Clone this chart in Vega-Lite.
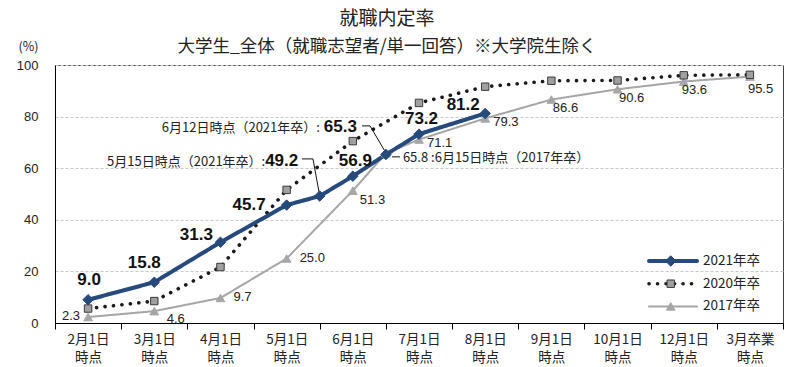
{
  "$schema": "https://vega.github.io/schema/vega-lite/v6.json",
  "width": 728,
  "height": 258,
  "autosize": {"type": "none"},
  "padding": {"left": 55, "top": 65, "right": 17, "bottom": 44},
  "background": "white",
  "config": {"view": {"stroke": "#404040", "strokeWidth": 1}},
  "title": {
    "text": "就職内定率",
    "subtitle": "大学生_全体（就職志望者/単一回答）※大学院生除く",
    "anchor": "middle",
    "frame": "group",
    "dx": -32,
    "offset": -15,
    "font": "Noto Sans CJK JP",
    "fontSize": 19,
    "fontWeight": "normal",
    "color": "#222222",
    "subtitleFont": "Noto Sans CJK JP",
    "subtitleFontSize": 17.5,
    "subtitleColor": "#222222",
    "subtitlePadding": 9
  },
  "datasets": {
    "pts": [
      {"s": "2017年卒", "x": 0, "v": 2.3},
      {"s": "2017年卒", "x": 1, "v": 4.6},
      {"s": "2017年卒", "x": 2, "v": 9.7},
      {"s": "2017年卒", "x": 3, "v": 25.0},
      {"s": "2017年卒", "x": 4, "v": 51.3},
      {"s": "2017年卒", "x": 4.5, "v": 65.8},
      {"s": "2017年卒", "x": 5, "v": 71.1},
      {"s": "2017年卒", "x": 6, "v": 79.3},
      {"s": "2017年卒", "x": 7, "v": 86.6},
      {"s": "2017年卒", "x": 8, "v": 90.6},
      {"s": "2017年卒", "x": 9, "v": 93.6},
      {"s": "2017年卒", "x": 10, "v": 95.5},
      {"s": "2020年卒", "x": 0, "v": 5.6},
      {"s": "2020年卒", "x": 1, "v": 8.5},
      {"s": "2020年卒", "x": 2, "v": 21.7},
      {"s": "2020年卒", "x": 3, "v": 51.6},
      {"s": "2020年卒", "x": 4, "v": 70.5},
      {"s": "2020年卒", "x": 5, "v": 85.3},
      {"s": "2020年卒", "x": 6, "v": 91.6},
      {"s": "2020年卒", "x": 7, "v": 93.9},
      {"s": "2020年卒", "x": 8, "v": 94.0},
      {"s": "2020年卒", "x": 9, "v": 96.0},
      {"s": "2020年卒", "x": 10, "v": 96.2},
      {"s": "2021年卒", "x": 0, "v": 9.0},
      {"s": "2021年卒", "x": 1, "v": 15.8},
      {"s": "2021年卒", "x": 2, "v": 31.3},
      {"s": "2021年卒", "x": 3, "v": 45.7},
      {"s": "2021年卒", "x": 3.5, "v": 49.2},
      {"s": "2021年卒", "x": 4, "v": 56.9},
      {"s": "2021年卒", "x": 4.5, "v": 65.3},
      {"s": "2021年卒", "x": 5, "v": 73.2},
      {"s": "2021年卒", "x": 6, "v": 81.2}
    ],
    "notes": [
      {"k": "a", "x": 3.5, "v": 49.2, "t": "5月15日時点（2021年卒）:"},
      {"k": "b", "x": 4.5, "v": 65.3, "t": "6月12日時点（2021年卒）:"},
      {"k": "c", "x": 4.5, "v": 65.8, "t": "65.8 :6月15日時点（2017年卒）"}
    ],
    "leaders": [
      {"id": "a", "o": 1, "x": 3.232, "v": 63.6},
      {"id": "a", "o": 2, "x": 3.398, "v": 63.6},
      {"id": "a", "o": 3, "x": 3.489, "v": 50.8},
      {"id": "b", "o": 1, "x": 4.139, "v": 76.4},
      {"id": "b", "o": 2, "x": 4.26, "v": 76.4},
      {"id": "b", "o": 3, "x": 4.501, "v": 65.9},
      {"id": "c", "o": 1, "x": 4.592, "v": 64.4},
      {"id": "c", "o": 2, "x": 4.713, "v": 64.4}
    ]
  },
  "data": {"name": "pts"},
  "layer": [
    {
      "mark": {"type": "line", "strokeCap": "round", "strokeJoin": "round"},
      "encoding": {
        "x": {
          "field": "x", "type": "quantitative",
          "scale": {"domain": [-0.5, 10.5], "nice": false, "zero": false},
          "axis": {
            "values": [-0.5, 0.5, 1.5, 2.5, 3.5, 4.5, 5.5, 6.5, 7.5, 8.5, 9.5, 10.5],
            "labelExpr": "datum.value > 10 ? '' : [['2月1日','3月1日','4月1日','5月1日','6月1日','7月1日','8月1日','9月1日','10月1日','12月1日','3月卒業'][round(datum.value + 0.5)], '時点']",
            "labelOffset": 33.1,
            "labelFlush": false,
            "labelOverlap": false,
            "labelBound": false,
            "labelAngle": 0,
            "labelAlign": "center",
            "labelBaseline": "top",
            "labelFont": "Noto Sans CJK JP",
            "labelFontSize": 13.5,
            "labelLineHeight": 18,
            "labelColor": "#222222",
            "labelPadding": 3,
            "tickSize": 6,
            "tickColor": "#000000",
            "domainColor": "#000000",
            "grid": false,
            "title": null
          }
        },
        "y": {
          "field": "v", "type": "quantitative",
          "scale": {"domain": [0, 100], "nice": false},
          "axis": {
            "values": [0, 20, 40, 60, 80, 100],
            "grid": true,
            "gridDash": [3, 2],
            "gridColor": "#c8c8c8",
            "ticks": false,
            "domainColor": "#000000",
            "labelFont": "Liberation Sans",
            "labelFontSize": 13,
            "labelColor": "#222222",
            "labelPadding": 17,
            "title": "(%)",
            "titleAngle": 0,
            "titleX": -37,
            "titleY": -19,
            "titleAlign": "left",
            "titleBaseline": "middle",
            "titleFont": "Noto Sans CJK JP",
            "titleFontSize": 12.5,
            "titleFontWeight": "normal",
            "titleColor": "#222222"
          }
        },
        "color": {
          "field": "s", "type": "nominal",
          "scale": {"domain": ["2021年卒", "2020年卒", "2017年卒"], "range": ["#264a7c", "#1a1a1a", "#a6a6a6"]},
          "legend": {
            "orient": "none",
            "legendX": 592,
            "legendY": 189,
            "title": null,
            "padding": 0,
            "symbolType": "stroke",
            "symbolSize": 2304,
            "clipHeight": 14,
            "rowPadding": 8.7,
            "labelFont": "Noto Sans CJK JP",
            "labelFontSize": 13.5,
            "labelColor": "#222222",
            "labelOffset": 4,
            "encoding": {"symbols": {"strokeCap": {"value": "round"}}}
          }
        },
        "strokeDash": {
          "field": "s", "type": "nominal",
          "scale": {"domain": ["2021年卒", "2020年卒", "2017年卒"], "range": [[1, 0], [0.1, 8.4], [1, 0]]}
        },
        "strokeWidth": {
          "field": "s", "type": "nominal",
          "scale": {"type": "ordinal", "domain": ["2021年卒", "2020年卒", "2017年卒"], "range": [4, 3.6, 2]}
        }
      }
    },
    {
      "data": {"name": "leaders"},
      "mark": {"type": "line", "color": "#111111", "strokeWidth": 1},
      "encoding": {
        "x": {"field": "x", "type": "quantitative"},
        "y": {"field": "v", "type": "quantitative"},
        "detail": {"field": "id"},
        "order": {"field": "o"}
      }
    },
    {
      "mark": {"type": "point", "filled": true, "opacity": 1, "strokeWidth": 1},
      "encoding": {
        "x": {"field": "x", "type": "quantitative"},
        "y": {"field": "v", "type": "quantitative"},
        "shape": {
          "field": "s", "type": "nominal", "sort": "descending",
          "scale": {"range": ["diamond", "square", "triangle-up"]},
          "legend": {
            "orient": "none",
            "legendX": 609,
            "legendY": 189,
            "title": null,
            "padding": 0,
            "clipHeight": 14,
            "rowPadding": 8.7,
            "labelFontSize": 13.5,
            "labelExpr": "''",
            "symbolStrokeWidth": 1
          }
        },
        "fill": {"field": "s", "type": "nominal", "sort": "descending", "scale": {"range": ["#264a7c", "#a0a0a0", "#a6a6a6"]}},
        "stroke": {"field": "s", "type": "nominal", "sort": "descending", "scale": {"range": ["#264a7c", "#3a3a3a", "#a6a6a6"]}},
        "size": {"field": "s", "type": "nominal", "sort": "descending", "scale": {"type": "ordinal", "range": [110, 55, 75]}}
      }
    },
    {
      "transform": [{"filter": "datum.s == '2021年卒' && datum.x == 0"}],
      "mark": {"type": "text", "font": "Liberation Sans", "fontWeight": "bold", "fontSize": 17, "color": "#111111", "align": "center", "baseline": "middle", "dx": 1, "dy": -20},
      "encoding": {"x": {"field": "x", "type": "quantitative"}, "y": {"field": "v", "type": "quantitative"}, "text": {"field": "v", "type": "quantitative", "format": ".1f"}}
    },
    {
      "transform": [{"filter": "datum.s == '2021年卒' && datum.x == 1"}],
      "mark": {"type": "text", "font": "Liberation Sans", "fontWeight": "bold", "fontSize": 17, "color": "#111111", "align": "center", "baseline": "middle", "dx": -10, "dy": -19},
      "encoding": {"x": {"field": "x", "type": "quantitative"}, "y": {"field": "v", "type": "quantitative"}, "text": {"field": "v", "type": "quantitative", "format": ".1f"}}
    },
    {
      "transform": [{"filter": "datum.s == '2021年卒' && datum.x == 2"}],
      "mark": {"type": "text", "font": "Liberation Sans", "fontWeight": "bold", "fontSize": 17, "color": "#111111", "align": "right", "baseline": "middle", "dx": -7.5, "dy": -7.5},
      "encoding": {"x": {"field": "x", "type": "quantitative"}, "y": {"field": "v", "type": "quantitative"}, "text": {"field": "v", "type": "quantitative", "format": ".1f"}}
    },
    {
      "transform": [{"filter": "datum.s == '2021年卒' && datum.x == 3"}],
      "mark": {"type": "text", "font": "Liberation Sans", "fontWeight": "bold", "fontSize": 17, "color": "#111111", "align": "right", "baseline": "middle", "dx": -21, "dy": 0},
      "encoding": {"x": {"field": "x", "type": "quantitative"}, "y": {"field": "v", "type": "quantitative"}, "text": {"field": "v", "type": "quantitative", "format": ".1f"}}
    },
    {
      "transform": [{"filter": "datum.s == '2021年卒' && (datum.x == 4 || datum.x == 5)"}],
      "mark": {"type": "text", "font": "Liberation Sans", "fontWeight": "bold", "fontSize": 17, "color": "#111111", "align": "center", "baseline": "middle", "dx": 2.5, "dy": -15},
      "encoding": {"x": {"field": "x", "type": "quantitative"}, "y": {"field": "v", "type": "quantitative"}, "text": {"field": "v", "type": "quantitative", "format": ".1f"}}
    },
    {
      "transform": [{"filter": "datum.s == '2021年卒' && datum.x == 6"}],
      "mark": {"type": "text", "font": "Liberation Sans", "fontWeight": "bold", "fontSize": 17, "color": "#111111", "align": "center", "baseline": "middle", "dx": -22, "dy": -8.5},
      "encoding": {"x": {"field": "x", "type": "quantitative"}, "y": {"field": "v", "type": "quantitative"}, "text": {"field": "v", "type": "quantitative", "format": ".1f"}}
    },
    {
      "transform": [{"filter": "datum.s == '2021年卒' && datum.x == 3.5"}],
      "mark": {"type": "text", "font": "Liberation Sans", "fontWeight": "bold", "fontSize": 17, "color": "#111111", "align": "right", "baseline": "middle", "dx": -21.5, "dy": -35},
      "encoding": {"x": {"field": "x", "type": "quantitative"}, "y": {"field": "v", "type": "quantitative"}, "text": {"field": "v", "type": "quantitative", "format": ".1f"}}
    },
    {
      "transform": [{"filter": "datum.s == '2021年卒' && datum.x == 4.5"}],
      "mark": {"type": "text", "font": "Liberation Sans", "fontWeight": "bold", "fontSize": 17, "color": "#111111", "align": "right", "baseline": "middle", "dx": -29, "dy": -27.5},
      "encoding": {"x": {"field": "x", "type": "quantitative"}, "y": {"field": "v", "type": "quantitative"}, "text": {"field": "v", "type": "quantitative", "format": ".1f"}}
    },
    {
      "data": {"name": "notes"},
      "transform": [{"filter": "datum.k == 'a'"}],
      "mark": {"type": "text", "font": "Noto Sans CJK JP", "fontSize": 13, "color": "#222222", "align": "right", "baseline": "middle", "dx": -54.5, "dy": -34.5},
      "encoding": {"x": {"field": "x", "type": "quantitative"}, "y": {"field": "v", "type": "quantitative"}, "text": {"field": "t"}}
    },
    {
      "data": {"name": "notes"},
      "transform": [{"filter": "datum.k == 'b'"}],
      "mark": {"type": "text", "font": "Noto Sans CJK JP", "fontSize": 13, "color": "#222222", "align": "right", "baseline": "middle", "dx": -66, "dy": -27},
      "encoding": {"x": {"field": "x", "type": "quantitative"}, "y": {"field": "v", "type": "quantitative"}, "text": {"field": "t"}}
    },
    {
      "data": {"name": "notes"},
      "transform": [{"filter": "datum.k == 'c'"}],
      "mark": {"type": "text", "font": "Noto Sans CJK JP", "fontSize": 13, "color": "#222222", "align": "left", "baseline": "middle", "dx": 17, "dy": 5},
      "encoding": {"x": {"field": "x", "type": "quantitative"}, "y": {"field": "v", "type": "quantitative"}, "text": {"field": "t"}}
    },
    {
      "transform": [{"filter": "datum.s == '2017年卒' && datum.x == 0"}],
      "mark": {"type": "text", "font": "Liberation Sans", "fontSize": 13, "color": "#222222", "align": "right", "baseline": "middle", "dx": -8, "dy": -1},
      "encoding": {"x": {"field": "x", "type": "quantitative"}, "y": {"field": "v", "type": "quantitative"}, "text": {"field": "v", "type": "quantitative", "format": ".1f"}}
    },
    {
      "transform": [{"filter": "datum.s == '2017年卒' && datum.x == 1"}],
      "mark": {"type": "text", "font": "Liberation Sans", "fontSize": 13, "color": "#222222", "align": "left", "baseline": "middle", "dx": 12.5, "dy": 7.5},
      "encoding": {"x": {"field": "x", "type": "quantitative"}, "y": {"field": "v", "type": "quantitative"}, "text": {"field": "v", "type": "quantitative", "format": ".1f"}}
    },
    {
      "transform": [{"filter": "datum.s == '2017年卒' && (datum.x == 2 || datum.x == 3)"}],
      "mark": {"type": "text", "font": "Liberation Sans", "fontSize": 13, "color": "#222222", "align": "left", "baseline": "middle", "dx": 13, "dy": -0.5},
      "encoding": {"x": {"field": "x", "type": "quantitative"}, "y": {"field": "v", "type": "quantitative"}, "text": {"field": "v", "type": "quantitative", "format": ".1f"}}
    },
    {
      "transform": [{"filter": "datum.s == '2017年卒' && datum.x == 4"}],
      "mark": {"type": "text", "font": "Liberation Sans", "fontSize": 13, "color": "#222222", "align": "left", "baseline": "middle", "dx": 7, "dy": 9},
      "encoding": {"x": {"field": "x", "type": "quantitative"}, "y": {"field": "v", "type": "quantitative"}, "text": {"field": "v", "type": "quantitative", "format": ".1f"}}
    },
    {
      "transform": [{"filter": "datum.s == '2017年卒' && (datum.x == 5 || datum.x == 6)"}],
      "mark": {"type": "text", "font": "Liberation Sans", "fontSize": 13, "color": "#222222", "align": "left", "baseline": "middle", "dx": 8, "dy": 3.5},
      "encoding": {"x": {"field": "x", "type": "quantitative"}, "y": {"field": "v", "type": "quantitative"}, "text": {"field": "v", "type": "quantitative", "format": ".1f"}}
    },
    {
      "transform": [{"filter": "datum.s == '2017年卒' && (datum.x == 7 || datum.x == 8)"}],
      "mark": {"type": "text", "font": "Liberation Sans", "fontSize": 13, "color": "#222222", "align": "left", "baseline": "middle", "dx": 1.5, "dy": 8.5},
      "encoding": {"x": {"field": "x", "type": "quantitative"}, "y": {"field": "v", "type": "quantitative"}, "text": {"field": "v", "type": "quantitative", "format": ".1f"}}
    },
    {
      "transform": [{"filter": "datum.s == '2017年卒' && datum.x == 9"}],
      "mark": {"type": "text", "font": "Liberation Sans", "fontSize": 13, "color": "#222222", "align": "left", "baseline": "middle", "dx": -2, "dy": 8.5},
      "encoding": {"x": {"field": "x", "type": "quantitative"}, "y": {"field": "v", "type": "quantitative"}, "text": {"field": "v", "type": "quantitative", "format": ".1f"}}
    },
    {
      "transform": [{"filter": "datum.s == '2017年卒' && datum.x == 10"}],
      "mark": {"type": "text", "font": "Liberation Sans", "fontSize": 13, "color": "#222222", "align": "left", "baseline": "middle", "dx": -2, "dy": 12},
      "encoding": {"x": {"field": "x", "type": "quantitative"}, "y": {"field": "v", "type": "quantitative"}, "text": {"field": "v", "type": "quantitative", "format": ".1f"}}
    }
  ]
}
